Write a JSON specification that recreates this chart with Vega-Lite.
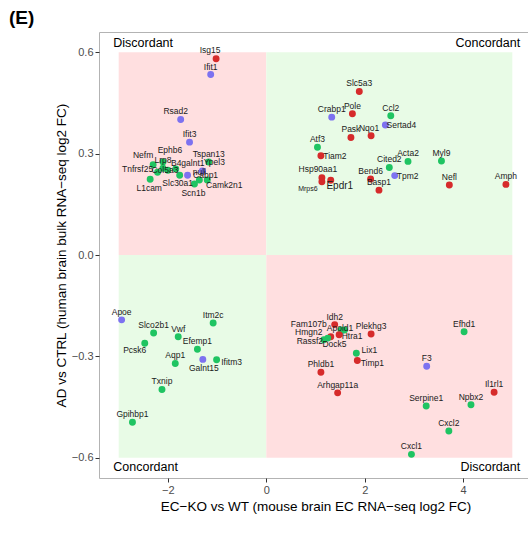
{
  "$schema": "https://vega.github.io/schema/vega-lite/v6.json",
  "width": 433,
  "height": 446,
  "autosize": "none",
  "padding": {"left": 99, "top": 32, "right": 0, "bottom": 55},
  "background": "white",
  "title": {"text": "(E)", "anchor": "start", "frame": "group", "dx": -90, "offset": 4, "fontSize": 19, "fontWeight": "bold", "font": "Liberation Sans", "color": "#000"},
  "config": {
    "view": {"stroke": "#b3b3b3", "strokeWidth": 1},
    "axis": {"grid": false, "domain": false, "labelFont": "Liberation Sans", "titleFont": "Liberation Sans", "labelColor": "#4d4d4d", "labelFontSize": 11, "titleFontSize": 13.5, "titleFontWeight": "normal", "titleColor": "#000", "tickColor": "#333", "tickSize": 4},
    "text": {"fontSize": 8.5, "font": "Liberation Sans", "color": "#1a1a1a", "baseline": "middle", "align": "center"}
  },
  "datasets": {
    "quads": [
      {"x1": -3, "x2": 0, "y1": 0, "y2": 0.6, "type": "Discordant"},
      {"x1": 0, "x2": 5, "y1": 0, "y2": 0.6, "type": "Concordant"},
      {"x1": -3, "x2": 0, "y1": -0.6, "y2": 0, "type": "Concordant"},
      {"x1": 0, "x2": 5, "y1": -0.6, "y2": 0, "type": "Discordant"}
    ],
    "notes": [
      {"label": "Discordant", "x": -3.11, "y": 0.627, "side": "left"},
      {"label": "Concordant", "x": 5.16, "y": 0.627, "side": "right"},
      {"label": "Concordant", "x": -3.11, "y": -0.627, "side": "left"},
      {"label": "Discordant", "x": 5.16, "y": -0.627, "side": "right"}
    ],
    "genes": [
      {"gene": "Isg15", "ec": -1.02, "ad": 0.581, "grp": "G1"},
      {"gene": "Ifit1", "ec": -1.13, "ad": 0.534, "grp": "G2"},
      {"gene": "Rsad2", "ec": -1.74, "ad": 0.401, "grp": "G2"},
      {"gene": "Ifit3", "ec": -1.56, "ad": 0.334, "grp": "G2"},
      {"gene": "Nefm", "ec": -2.30, "ad": 0.267, "grp": "G3"},
      {"gene": "Ephb6", "ec": -2.10, "ad": 0.275, "grp": "G3"},
      {"gene": "Lrp8", "ec": -2.10, "ad": 0.257, "grp": "G3"},
      {"gene": "Tnfrsf25", "ec": -2.21, "ad": 0.245, "grp": "G3"},
      {"gene": "Col5a3", "ec": -2.00, "ad": 0.251, "grp": "G3"},
      {"gene": "B4galnt1", "ec": -1.84, "ad": 0.255, "grp": "G3"},
      {"gene": "Slc30a1", "ec": -1.76, "ad": 0.236, "grp": "G3"},
      {"gene": "Cabp1", "ec": -1.60, "ad": 0.236, "grp": "G2"},
      {"gene": "Ypel3", "ec": -1.30, "ad": 0.249, "grp": "G2"},
      {"gene": "Tspan13", "ec": -1.17, "ad": 0.275, "grp": "G3"},
      {"gene": "Camk2n1", "ec": -1.20, "ad": 0.222, "grp": "G3"},
      {"gene": "", "ec": -1.36, "ad": 0.222, "grp": "G3"},
      {"gene": "Scn1b", "ec": -1.46, "ad": 0.210, "grp": "G3"},
      {"gene": "L1cam", "ec": -2.36, "ad": 0.224, "grp": "G3"},
      {"gene": "Slc5a3", "ec": 1.89, "ad": 0.484, "grp": "G1"},
      {"gene": "Pole", "ec": 1.75, "ad": 0.418, "grp": "G1"},
      {"gene": "Crabp1", "ec": 1.33, "ad": 0.408, "grp": "G2"},
      {"gene": "Ccl2", "ec": 2.53, "ad": 0.412, "grp": "G3"},
      {"gene": "Sertad4", "ec": 2.42, "ad": 0.385, "grp": "G2"},
      {"gene": "Pask", "ec": 1.72, "ad": 0.348, "grp": "G1"},
      {"gene": "Nqo1", "ec": 2.13, "ad": 0.353, "grp": "G1"},
      {"gene": "Atf3", "ec": 1.04, "ad": 0.319, "grp": "G3"},
      {"gene": "Tiam2", "ec": 1.11, "ad": 0.294, "grp": "G1"},
      {"gene": "Acta2", "ec": 2.88, "ad": 0.277, "grp": "G3"},
      {"gene": "Cited2", "ec": 2.50, "ad": 0.259, "grp": "G3"},
      {"gene": "Myl9", "ec": 3.56, "ad": 0.278, "grp": "G3"},
      {"gene": "Tpm2", "ec": 2.61, "ad": 0.235, "grp": "G2"},
      {"gene": "Bend6", "ec": 2.12, "ad": 0.225, "grp": "G1"},
      {"gene": "Basp1", "ec": 2.29, "ad": 0.192, "grp": "G1"},
      {"gene": "Nefl", "ec": 3.72, "ad": 0.207, "grp": "G1"},
      {"gene": "Amph", "ec": 4.87, "ad": 0.209, "grp": "G1"},
      {"gene": "Hsp90aa1", "ec": 1.13, "ad": 0.229, "grp": "G1"},
      {"gene": "Mrps6", "ec": 1.13, "ad": 0.217, "grp": "G1"},
      {"gene": "Epdr1", "ec": 1.31, "ad": 0.221, "grp": "G1"},
      {"gene": "Apoe", "ec": -2.94, "ad": -0.192, "grp": "G2"},
      {"gene": "Itm2c", "ec": -1.08, "ad": -0.201, "grp": "G3"},
      {"gene": "Slco2b1", "ec": -2.29, "ad": -0.231, "grp": "G3"},
      {"gene": "Vwf", "ec": -1.79, "ad": -0.242, "grp": "G3"},
      {"gene": "Pcsk6", "ec": -2.47, "ad": -0.261, "grp": "G3"},
      {"gene": "Efemp1", "ec": -1.40, "ad": -0.279, "grp": "G3"},
      {"gene": "Galnt15", "ec": -1.29, "ad": -0.309, "grp": "G2"},
      {"gene": "Ifitm3", "ec": -1.01, "ad": -0.310, "grp": "G3"},
      {"gene": "Aqp1", "ec": -1.85, "ad": -0.321, "grp": "G3"},
      {"gene": "Txnip", "ec": -2.12, "ad": -0.398, "grp": "G3"},
      {"gene": "Gpihbp1", "ec": -2.72, "ad": -0.495, "grp": "G3"},
      {"gene": "Idh2", "ec": 1.39, "ad": -0.206, "grp": "G1"},
      {"gene": "Apold1", "ec": 1.52, "ad": -0.222, "grp": "G3"},
      {"gene": "Dock5", "ec": 1.59, "ad": -0.222, "grp": "G3"},
      {"gene": "Htra1", "ec": 1.48, "ad": -0.236, "grp": "G1"},
      {"gene": "Fam107b", "ec": 1.31, "ad": -0.242, "grp": "G1"},
      {"gene": "Hmgn2", "ec": 1.25, "ad": -0.246, "grp": "G3"},
      {"gene": "Rassf2", "ec": 1.17, "ad": -0.251, "grp": "G3"},
      {"gene": "Plekhg3", "ec": 2.13, "ad": -0.234, "grp": "G1"},
      {"gene": "Lix1", "ec": 1.83, "ad": -0.291, "grp": "G3"},
      {"gene": "Timp1", "ec": 1.85, "ad": -0.312, "grp": "G1"},
      {"gene": "Phldb1", "ec": 1.11, "ad": -0.347, "grp": "G1"},
      {"gene": "Arhgap11a", "ec": 1.45, "ad": -0.408, "grp": "G1"},
      {"gene": "F3", "ec": 3.26, "ad": -0.329, "grp": "G2"},
      {"gene": "Efhd1", "ec": 4.02, "ad": -0.227, "grp": "G3"},
      {"gene": "Il1rl1", "ec": 4.63, "ad": -0.406, "grp": "G1"},
      {"gene": "Npbx2", "ec": 4.16, "ad": -0.443, "grp": "G3"},
      {"gene": "Serpine1", "ec": 3.25, "ad": -0.447, "grp": "G3"},
      {"gene": "Cxcl2", "ec": 3.71, "ad": -0.521, "grp": "G3"},
      {"gene": "Cxcl1", "ec": 2.95, "ad": -0.590, "grp": "G3"}
    ]
  },
  "layer": [
    {
      "data": {"name": "quads"},
      "mark": {"type": "rect", "strokeWidth": 0},
      "encoding": {
        "x": {"field": "x1", "type": "quantitative", "scale": {"domain": [-3.4, 5.4], "nice": false, "zero": false}, "axis": {"values": [-2, 0, 2, 4], "format": "d", "title": "EC−KO vs WT (mouse brain EC RNA−seq log2 FC)", "titlePadding": 4, "labelPadding": 2}},
        "x2": {"field": "x2"},
        "y": {"field": "y1", "type": "quantitative", "scale": {"domain": [-0.66, 0.66], "nice": false, "zero": false}, "axis": {"values": [-0.6, -0.3, 0, 0.3, 0.6], "format": ".1f", "title": "AD vs CTRL (human brain bulk RNA−seq log2 FC)", "titlePadding": 3, "labelPadding": 2}},
        "y2": {"field": "y2"},
        "fill": {"field": "type", "type": "nominal", "scale": {"domain": ["Discordant", "Concordant"], "range": ["#ffdfe0", "#e8fbe6"]}, "legend": null}
      }
    },
    {
      "data": {"name": "genes"},
      "mark": {"type": "circle", "size": 48, "opacity": 1},
      "encoding": {
        "x": {"field": "ec", "type": "quantitative"},
        "y": {"field": "ad", "type": "quantitative"},
        "color": {"field": "grp", "type": "nominal", "scale": {"domain": ["G1", "G2", "G3"], "range": ["#d62b2b", "#7d72f0", "#1fc462"]}, "legend": null}
      }
    },
    {
      "data": {"name": "genes"},
      "transform": [{"filter": {"not": {"field": "gene", "oneOf": ["Isg15", "Rsad2", "Nqo1", "Hsp90aa1", "Nefm", "Ephb6", "B4galnt1", "Ypel3", "Tnfrsf25", "Col5a3", "Cabp1", "Slc30a1", "Camk2n1", "L1cam", "Scn1b", "Mrps6", "Epdr1", "Fam107b", "Hmgn2", "Rassf2", "Apold1", "Dock5", "Htra1", "Lix1", "Timp1", "Pcsk6", "Galnt15", "Ifitm3", "Sertad4", "Tiam2", "Tpm2"]}}}],
      "mark": {"type": "text", "dy": -8},
      "encoding": {"x": {"field": "ec", "type": "quantitative"}, "y": {"field": "ad", "type": "quantitative"}, "text": {"field": "gene"}}
    },
    {"data": {"name": "genes"}, "transform": [{"filter": {"field": "gene", "equal": "Isg15"}}], "mark": {"type": "text", "dx": -6, "dy": -9}, "encoding": {"x": {"field": "ec", "type": "quantitative"}, "y": {"field": "ad", "type": "quantitative"}, "text": {"field": "gene"}}},
    {"data": {"name": "genes"}, "transform": [{"filter": {"field": "gene", "equal": "Rsad2"}}], "mark": {"type": "text", "dx": -5, "dy": -9}, "encoding": {"x": {"field": "ec", "type": "quantitative"}, "y": {"field": "ad", "type": "quantitative"}, "text": {"field": "gene"}}},
    {"data": {"name": "genes"}, "transform": [{"filter": {"field": "gene", "equal": "Nqo1"}}], "mark": {"type": "text", "dx": -2, "dy": -8}, "encoding": {"x": {"field": "ec", "type": "quantitative"}, "y": {"field": "ad", "type": "quantitative"}, "text": {"field": "gene"}}},
    {"data": {"name": "genes"}, "transform": [{"filter": {"field": "gene", "equal": "Hsp90aa1"}}], "mark": {"type": "text", "dx": -4, "dy": -9}, "encoding": {"x": {"field": "ec", "type": "quantitative"}, "y": {"field": "ad", "type": "quantitative"}, "text": {"field": "gene"}}},
    {"data": {"name": "genes"}, "transform": [{"filter": {"field": "gene", "equal": "Nefm"}}], "mark": {"type": "text", "dx": -10, "dy": -10}, "encoding": {"x": {"field": "ec", "type": "quantitative"}, "y": {"field": "ad", "type": "quantitative"}, "text": {"field": "gene"}}},
    {"data": {"name": "genes"}, "transform": [{"filter": {"field": "gene", "equal": "Ephb6"}}], "mark": {"type": "text", "dx": 7, "dy": -12}, "encoding": {"x": {"field": "ec", "type": "quantitative"}, "y": {"field": "ad", "type": "quantitative"}, "text": {"field": "gene"}}},
    {"data": {"name": "genes"}, "transform": [{"filter": {"field": "gene", "equal": "B4galnt1"}}], "mark": {"type": "text", "dx": 12, "dy": -6}, "encoding": {"x": {"field": "ec", "type": "quantitative"}, "y": {"field": "ad", "type": "quantitative"}, "text": {"field": "gene"}}},
    {"data": {"name": "genes"}, "transform": [{"filter": {"field": "gene", "equal": "Ypel3"}}], "mark": {"type": "text", "dx": 12, "dy": -9}, "encoding": {"x": {"field": "ec", "type": "quantitative"}, "y": {"field": "ad", "type": "quantitative"}, "text": {"field": "gene"}}},
    {"data": {"name": "genes"}, "transform": [{"filter": {"field": "gene", "equal": "Tnfrsf25"}}], "mark": {"type": "text", "dx": -20, "dy": -3}, "encoding": {"x": {"field": "ec", "type": "quantitative"}, "y": {"field": "ad", "type": "quantitative"}, "text": {"field": "gene"}}},
    {"data": {"name": "genes"}, "transform": [{"filter": {"field": "gene", "equal": "Col5a3"}}], "mark": {"type": "text", "dx": -3, "dy": 0}, "encoding": {"x": {"field": "ec", "type": "quantitative"}, "y": {"field": "ad", "type": "quantitative"}, "text": {"field": "gene"}}},
    {"data": {"name": "genes"}, "transform": [{"filter": {"field": "gene", "equal": "Cabp1"}}], "mark": {"type": "text", "dx": 18, "dy": 0}, "encoding": {"x": {"field": "ec", "type": "quantitative"}, "y": {"field": "ad", "type": "quantitative"}, "text": {"field": "gene"}}},
    {"data": {"name": "genes"}, "transform": [{"filter": {"field": "gene", "equal": "Slc30a1"}}], "mark": {"type": "text", "dx": -2, "dy": 8}, "encoding": {"x": {"field": "ec", "type": "quantitative"}, "y": {"field": "ad", "type": "quantitative"}, "text": {"field": "gene"}}},
    {"data": {"name": "genes"}, "transform": [{"filter": {"field": "gene", "equal": "Camk2n1"}}], "mark": {"type": "text", "dx": 17, "dy": 5}, "encoding": {"x": {"field": "ec", "type": "quantitative"}, "y": {"field": "ad", "type": "quantitative"}, "text": {"field": "gene"}}},
    {"data": {"name": "genes"}, "transform": [{"filter": {"field": "gene", "equal": "L1cam"}}], "mark": {"type": "text", "dx": -1, "dy": 9}, "encoding": {"x": {"field": "ec", "type": "quantitative"}, "y": {"field": "ad", "type": "quantitative"}, "text": {"field": "gene"}}},
    {"data": {"name": "genes"}, "transform": [{"filter": {"field": "gene", "equal": "Scn1b"}}], "mark": {"type": "text", "dx": -1, "dy": 9}, "encoding": {"x": {"field": "ec", "type": "quantitative"}, "y": {"field": "ad", "type": "quantitative"}, "text": {"field": "gene"}}},
    {"data": {"name": "genes"}, "transform": [{"filter": {"field": "gene", "equal": "Mrps6"}}], "mark": {"type": "text", "dx": -14, "dy": 7, "fontSize": 7}, "encoding": {"x": {"field": "ec", "type": "quantitative"}, "y": {"field": "ad", "type": "quantitative"}, "text": {"field": "gene"}}},
    {"data": {"name": "genes"}, "transform": [{"filter": {"field": "gene", "equal": "Epdr1"}}], "mark": {"type": "text", "dx": 9, "dy": 6, "fontSize": 10}, "encoding": {"x": {"field": "ec", "type": "quantitative"}, "y": {"field": "ad", "type": "quantitative"}, "text": {"field": "gene"}}},
    {"data": {"name": "genes"}, "transform": [{"filter": {"field": "gene", "equal": "Fam107b"}}], "mark": {"type": "text", "dx": -22, "dy": -13}, "encoding": {"x": {"field": "ec", "type": "quantitative"}, "y": {"field": "ad", "type": "quantitative"}, "text": {"field": "gene"}}},
    {"data": {"name": "genes"}, "transform": [{"filter": {"field": "gene", "equal": "Hmgn2"}}], "mark": {"type": "text", "dx": -19, "dy": -6}, "encoding": {"x": {"field": "ec", "type": "quantitative"}, "y": {"field": "ad", "type": "quantitative"}, "text": {"field": "gene"}}},
    {"data": {"name": "genes"}, "transform": [{"filter": {"field": "gene", "equal": "Rassf2"}}], "mark": {"type": "text", "dx": -14, "dy": 1}, "encoding": {"x": {"field": "ec", "type": "quantitative"}, "y": {"field": "ad", "type": "quantitative"}, "text": {"field": "gene"}}},
    {"data": {"name": "genes"}, "transform": [{"filter": {"field": "gene", "equal": "Apold1"}}], "mark": {"type": "text", "dx": -1, "dy": -2}, "encoding": {"x": {"field": "ec", "type": "quantitative"}, "y": {"field": "ad", "type": "quantitative"}, "text": {"field": "gene"}}},
    {"data": {"name": "genes"}, "transform": [{"filter": {"field": "gene", "equal": "Dock5"}}], "mark": {"type": "text", "dx": -10, "dy": 14}, "encoding": {"x": {"field": "ec", "type": "quantitative"}, "y": {"field": "ad", "type": "quantitative"}, "text": {"field": "gene"}}},
    {"data": {"name": "genes"}, "transform": [{"filter": {"field": "gene", "equal": "Htra1"}}], "mark": {"type": "text", "dx": 13, "dy": 1}, "encoding": {"x": {"field": "ec", "type": "quantitative"}, "y": {"field": "ad", "type": "quantitative"}, "text": {"field": "gene"}}},
    {"data": {"name": "genes"}, "transform": [{"filter": {"field": "gene", "equal": "Lix1"}}], "mark": {"type": "text", "dx": 13, "dy": -3}, "encoding": {"x": {"field": "ec", "type": "quantitative"}, "y": {"field": "ad", "type": "quantitative"}, "text": {"field": "gene"}}},
    {"data": {"name": "genes"}, "transform": [{"filter": {"field": "gene", "equal": "Timp1"}}], "mark": {"type": "text", "dx": 15, "dy": 3}, "encoding": {"x": {"field": "ec", "type": "quantitative"}, "y": {"field": "ad", "type": "quantitative"}, "text": {"field": "gene"}}},
    {"data": {"name": "genes"}, "transform": [{"filter": {"field": "gene", "equal": "Pcsk6"}}], "mark": {"type": "text", "dx": -10, "dy": 7}, "encoding": {"x": {"field": "ec", "type": "quantitative"}, "y": {"field": "ad", "type": "quantitative"}, "text": {"field": "gene"}}},
    {"data": {"name": "genes"}, "transform": [{"filter": {"field": "gene", "equal": "Galnt15"}}], "mark": {"type": "text", "dx": 1, "dy": 9}, "encoding": {"x": {"field": "ec", "type": "quantitative"}, "y": {"field": "ad", "type": "quantitative"}, "text": {"field": "gene"}}},
    {"data": {"name": "genes"}, "transform": [{"filter": {"field": "gene", "equal": "Ifitm3"}}], "mark": {"type": "text", "dx": 15, "dy": 2}, "encoding": {"x": {"field": "ec", "type": "quantitative"}, "y": {"field": "ad", "type": "quantitative"}, "text": {"field": "gene"}}},
    {"data": {"name": "genes"}, "transform": [{"filter": {"field": "gene", "equal": "Sertad4"}}], "mark": {"type": "text", "dx": 16, "dy": 0}, "encoding": {"x": {"field": "ec", "type": "quantitative"}, "y": {"field": "ad", "type": "quantitative"}, "text": {"field": "gene"}}},
    {"data": {"name": "genes"}, "transform": [{"filter": {"field": "gene", "equal": "Tiam2"}}], "mark": {"type": "text", "dx": 14, "dy": 0}, "encoding": {"x": {"field": "ec", "type": "quantitative"}, "y": {"field": "ad", "type": "quantitative"}, "text": {"field": "gene"}}},
    {"data": {"name": "genes"}, "transform": [{"filter": {"field": "gene", "equal": "Tpm2"}}], "mark": {"type": "text", "dx": 13, "dy": 0}, "encoding": {"x": {"field": "ec", "type": "quantitative"}, "y": {"field": "ad", "type": "quantitative"}, "text": {"field": "gene"}}},
    {
      "data": {"name": "notes"},
      "transform": [{"filter": {"field": "side", "equal": "left"}}],
      "mark": {"type": "text", "align": "left", "fontSize": 12.5, "color": "#000"},
      "encoding": {"x": {"field": "x", "type": "quantitative"}, "y": {"field": "y", "type": "quantitative"}, "text": {"field": "label"}}
    },
    {
      "data": {"name": "notes"},
      "transform": [{"filter": {"field": "side", "equal": "right"}}],
      "mark": {"type": "text", "align": "right", "fontSize": 12.5, "color": "#000"},
      "encoding": {"x": {"field": "x", "type": "quantitative"}, "y": {"field": "y", "type": "quantitative"}, "text": {"field": "label"}}
    }
  ]
}
